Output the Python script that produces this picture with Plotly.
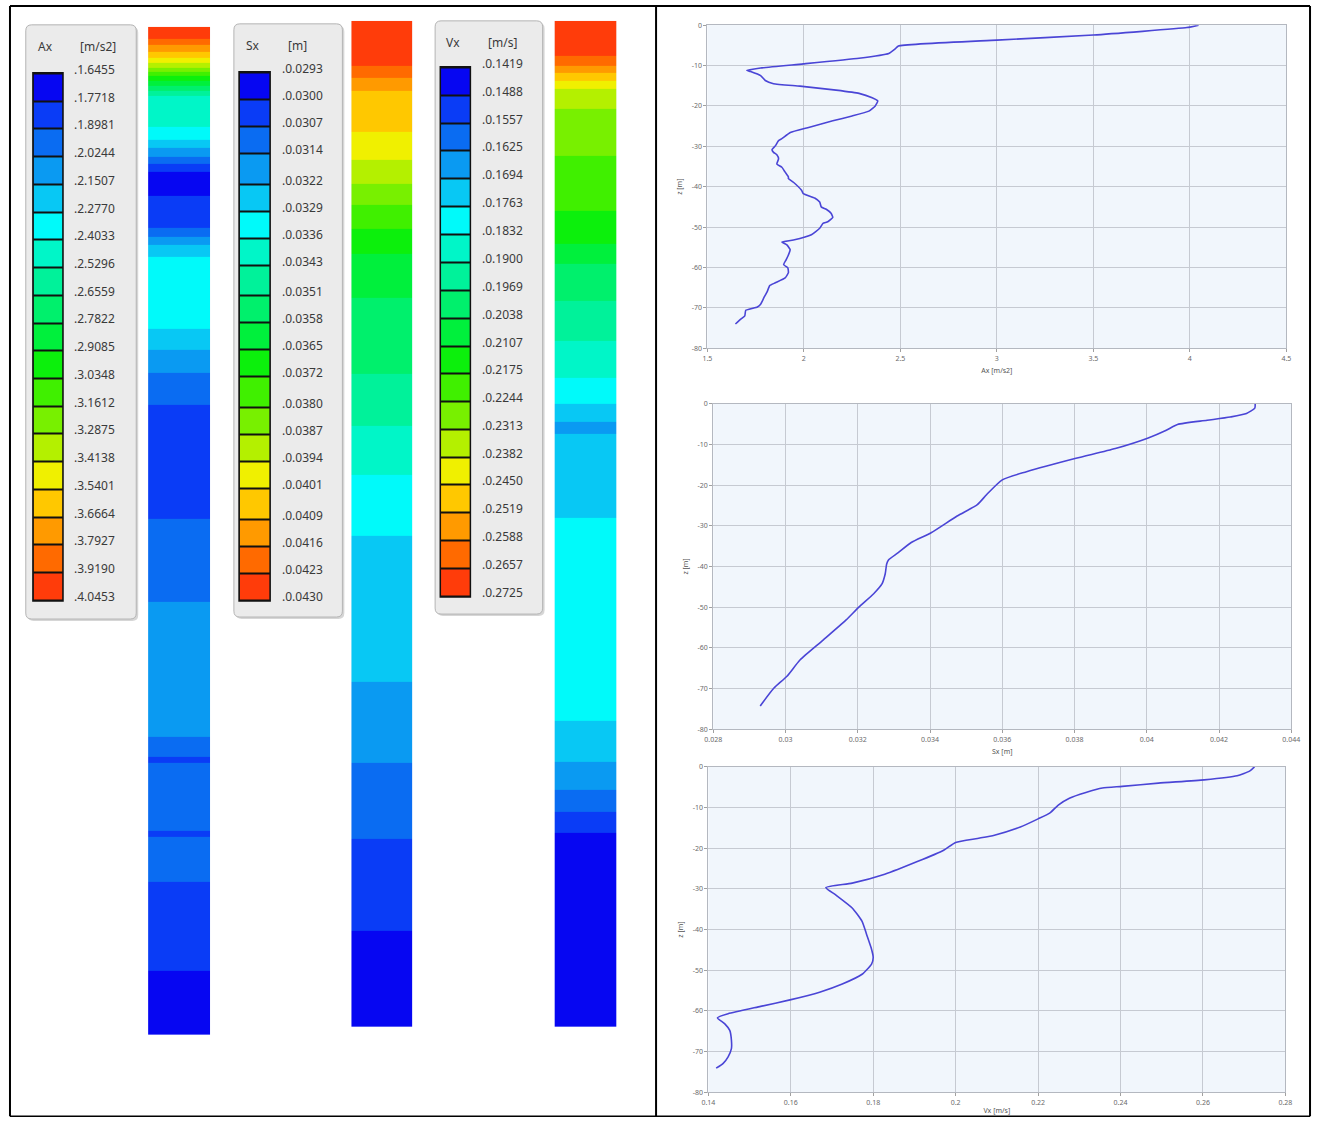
import plotly.graph_objects as go

# the page keeps its default 8 px body margin; the figure fills the rest of the window
PAGE_W, PAGE_H = 1337, 1137
OFF = 8
W, H = PAGE_W - 2 * OFF, PAGE_H - 2 * OFF

# ---------------- data: depth profiles ----------------
ax_depth = [0, -0.6, -2.45, -3.7, -5.15, -6.0, -7.0, -8.2, -9.6, -10.6, -11.2, -11.5, -12.5,
            -13.7, -14.5, -15.1, -16.1, -16.9, -18.0, -18.8, -20.0, -21.3, -22.5, -23.7, -25.4,
            -26.6, -28.1, -28.6, -29.9, -30.8, -31.5, -32.1, -33.1, -34.4, -35.2, -36.4, -37.6,
            -38.0, -38.9, -40.9, -41.7, -42.8, -43.8, -45.0, -45.6, -46.6, -47.6, -48.7, -49.1,
            -50.3, -51.9, -53.2, -53.7, -54.4, -55.6, -56.9, -58.1, -59.3, -60.1, -61.3, -62.6,
            -63.8, -64.5, -66.0, -67.5, -69.1, -69.8, -70.6, -72.0, -72.8, -74.0]
ax_vals = [4.0453, 3.985, 3.50, 3.00, 2.49, 2.47, 2.44, 2.286, 1.997, 1.776, 1.704, 1.724, 1.776,
           1.80, 1.843, 1.98, 2.167, 2.286, 2.354, 2.383, 2.37, 2.337, 2.25, 2.15, 2.02,
           1.93, 1.886, 1.869, 1.852, 1.835, 1.843, 1.86, 1.869, 1.86, 1.886, 1.903, 1.92,
           1.92, 1.946, 1.988, 1.997, 2.056, 2.082, 2.09, 2.116, 2.141, 2.15, 2.124, 2.099,
           2.082, 2.039, 1.946, 1.886, 1.912, 1.929, 1.92, 1.908, 1.895, 1.917, 1.92, 1.903,
           1.852, 1.823, 1.81, 1.793, 1.776, 1.759, 1.699, 1.694, 1.673, 1.6455]

sx_depth = [0, -1.06, -2.4, -3.25, -4.06, -5.1, -6.5, -8.4, -11.0, -13.4, -16.7, -18.7, -22.3,
            -24.8, -27.6, -31.7, -34.1, -36.6, -38.4, -39.4, -41.8, -44.3, -46.7, -50.0, -53.2,
            -58.1, -63.0, -67.0, -69.9, -74.3]
sx_vals = [0.0430, 0.04299, 0.04276, 0.04231, 0.04167, 0.04085, 0.04054, 0.04004, 0.03913,
           0.03804, 0.03667, 0.0360, 0.03557, 0.03531, 0.03475, 0.03403, 0.03348, 0.03312,
           0.03285, 0.0328, 0.03276, 0.03267, 0.03244, 0.03203, 0.03167, 0.03104, 0.0304,
           0.03004, 0.02968, 0.0293]

vx_depth = [0, -0.98, -2.2, -3.2, -4.0, -4.8, -5.2, -6.3, -7.7, -9.4, -11.3, -12.8, -14.8,
            -16.8, -17.6, -18.6, -20.5, -23.3, -26.4, -28.6, -29.7, -31.5, -34.7, -38.0, -41.2,
            -44.5, -46.9, -48.5, -51.0, -53.4, -55.4, -57.3, -58.9, -60.7, -61.7, -63.2, -64.8,
            -67.2, -69.3, -71.3, -72.9, -74.1]
vx_vals = [0.2725, 0.2714, 0.2683, 0.2603, 0.2492, 0.2404, 0.2356, 0.2316, 0.2276, 0.2249,
           0.2229, 0.22, 0.2157, 0.2094, 0.2053, 0.2, 0.1971, 0.1907, 0.1828, 0.1749, 0.1685,
           0.1709, 0.1749, 0.1773, 0.1784, 0.1795, 0.18, 0.1796, 0.1773, 0.1725, 0.167, 0.1598,
           0.1527, 0.1448, 0.1422, 0.144, 0.1452, 0.1456, 0.1456, 0.1448, 0.1436, 0.1419]

# ---------------- data: legend levels ----------------
ax_levels = [1.6455, 1.7718, 1.8981, 2.0244, 2.1507, 2.2770, 2.4033, 2.5296, 2.6559, 2.7822,
             2.9085, 3.0348, 3.1612, 3.2875, 3.4138, 3.5401, 3.6664, 3.7927, 3.9190, 4.0453]
sx_levels = [0.0293, 0.0300, 0.0307, 0.0314, 0.0322, 0.0329, 0.0336, 0.0343, 0.0351, 0.0358,
             0.0365, 0.0372, 0.0380, 0.0387, 0.0394, 0.0401, 0.0409, 0.0416, 0.0423, 0.0430]
vx_levels = [0.1419, 0.1488, 0.1557, 0.1625, 0.1694, 0.1763, 0.1832, 0.1900, 0.1969, 0.2038,
             0.2107, 0.2175, 0.2244, 0.2313, 0.2382, 0.2450, 0.2519, 0.2588, 0.2657, 0.2725]

band_colors = ["#0606f2", "#0a3cf6", "#0a6cf2", "#0a9af2", "#08c8f4", "#00fafa", "#00f6c8",
               "#00f29a", "#00f06c", "#00f03c", "#0cf00c", "#40f000", "#78f000", "#b4f000",
               "#f0f000", "#ffc800", "#ff9a00", "#ff6a00", "#ff3c0a"]

z_ticks = [0, -10, -20, -30, -40, -50, -60, -70, -80]
ax_ticks = [1.5, 2, 2.5, 3, 3.5, 4, 4.5]
ax_ticktext = ["1.5", "2", "2.5", "3", "3.5", "4", "4.5"]
sx_ticks = [0.028, 0.030, 0.032, 0.034, 0.036, 0.038, 0.040, 0.042, 0.044]
sx_ticktext = ["0.028", "0.03", "0.032", "0.034", "0.036", "0.038", "0.04", "0.042", "0.044"]
vx_ticks = [0.14, 0.16, 0.18, 0.20, 0.22, 0.24, 0.26, 0.28]
vx_ticktext = ["0.14", "0.16", "0.18", "0.2", "0.22", "0.24", "0.26", "0.28"]

# stepped colour scale: one flat band per legend interval
n_bands = len(band_colors)
colorscale = []
for i, c in enumerate(band_colors):
    colorscale.append([i / n_bands, c])
    colorscale.append([(i + 1) / n_bands, c])

FONT = "Noto Sans, Open Sans, sans-serif"


# positions below are given in window pixels and converted to paper fractions
def fx(p):
    return (p - OFF) / W


def fy(p):
    return 1 - (p - OFF) / H


def dom_x(a, b):
    return [fx(a), fx(b)]


def dom_y(top, bottom):
    return [fy(bottom), fy(top)]


fig = go.Figure()
axes = {}


def ref(i):
    return ("x" if i == 1 else f"x{i}"), ("y" if i == 1 else f"y{i}")


def add_axes(i, xdom, ydom, xopts, yopts):
    xr, yr = ref(i)
    axes["xaxis" if i == 1 else f"xaxis{i}"] = dict(domain=xdom, anchor=yr, **xopts)
    axes["yaxis" if i == 1 else f"yaxis{i}"] = dict(domain=ydom, anchor=xr, **yopts)


hidden = dict(visible=False, fixedrange=True, showgrid=False, zeroline=False)

shapes = []
annotations = []

# ---------------- legend panels ----------------
def rounded_path(x0, y0, x1, y1, r):
    pts = [
        f"M{fx(x0 + r)},{fy(y0)}", f"L{fx(x1 - r)},{fy(y0)}", f"Q{fx(x1)},{fy(y0)} {fx(x1)},{fy(y0 + r)}",
        f"L{fx(x1)},{fy(y1 - r)}", f"Q{fx(x1)},{fy(y1)} {fx(x1 - r)},{fy(y1)}",
        f"L{fx(x0 + r)},{fy(y1)}", f"Q{fx(x0)},{fy(y1)} {fx(x0)},{fy(y1 - r)}",
        f"L{fx(x0)},{fy(y0 + r)}", f"Q{fx(x0)},{fy(y0)} {fx(x0 + r)},{fy(y0)}", "Z",
    ]
    return " ".join(pts)


legends = [
    # name, unit, levels, panel box, swatch box, label x, name x, unit x, title y
    ("Ax", "[m/s2]", ax_levels, (25, 28, 137, 627), (33, 77, 62, 608), 72, 35, 78, 50),
    ("Sx", "[m]", sx_levels, (236, 27, 346, 625), (242, 76, 272, 608), 283, 246, 289, 49),
    ("Vx", "[m/s]", vx_levels, (440, 24, 549, 622), (446, 71, 475, 604), 486, 449, 492, 46),
]

for k, (name, unit, levels, panel, sw, lab_x, name_x, unit_x, title_y) in enumerate(legends):
    i = k + 1
    xr, yr = ref(i)
    # panel shadow and body
    shapes.append(dict(type="path", xref="paper", yref="paper", layer="below",
                       path=rounded_path(panel[0] + 2, panel[1] + 2, panel[2] + 2, panel[3] + 2, 6),
                       fillcolor="#d6d6d6", line=dict(width=0)))
    shapes.append(dict(type="path", xref="paper", yref="paper", layer="below",
                       path=rounded_path(*panel, 6),
                       fillcolor="#ebebeb", line=dict(color="#b4b4b4", width=1)))
    # black frame under the swatches; gaps between cells reveal it
    shapes.append(dict(type="rect", xref=f"{xr} domain", yref=f"{yr} domain", layer="below",
                       x0=0, x1=1, y0=0, y1=1, fillcolor="#111111",
                       line=dict(color="#111111", width=3)))
    add_axes(i, dom_x(sw[0], sw[2]), dom_y(sw[1], sw[3]),
             dict(hidden, range=[-0.5, 0.5]),
             dict(hidden, range=[levels[-1], levels[0]]))
    fig.add_trace(go.Heatmap(
        x=[0], y=levels, z=[[(a + b) / 2] for a, b in zip(levels[:-1], levels[1:])],
        colorscale=colorscale, zmin=levels[0], zmax=levels[-1], showscale=False,
        ygap=2, hoverinfo="skip", xaxis=xr, yaxis=yr))
    for v in levels:
        annotations.append(dict(xref="paper", yref=yr, x=fx(lab_x), y=v, yshift=4,
                                text="." + f"{v:.4f}", showarrow=False, xanchor="left",
                                yanchor="middle", font=dict(family=FONT, size=12, color="#3a3a3a")))
    annotations.append(dict(xref="paper", yref="paper", x=fx(name_x), y=fy(title_y), text=name,
                            showarrow=False, xanchor="left", yanchor="middle",
                            font=dict(family=FONT, size=12, color="#3a3a3a")))
    annotations.append(dict(xref="paper", yref="paper", x=fx(unit_x), y=fy(title_y), text=unit,
                            showarrow=False, xanchor="left", yanchor="middle",
                            font=dict(family=FONT, size=12, color="#3a3a3a")))

# ---------------- colour columns ----------------
columns = [
    (ax_depth, ax_vals, ax_levels, (149, 30, 212, 1046)),
    (sx_depth, sx_vals, sx_levels, (355, 24, 417, 1038)),
    (vx_depth, vx_vals, vx_levels, (561, 24, 624, 1038)),
]
for k, (depth, vals, levels, box) in enumerate(columns):
    i = k + 4
    xr, yr = ref(i)
    add_axes(i, dom_x(box[0], box[2]), dom_y(box[1], box[3]),
             dict(hidden, range=[-0.5, 1.5]),
             dict(hidden, range=[depth[-1], 0]))
    fig.add_trace(go.Heatmap(
        x=[0, 1], y=depth[::-1], z=[[v, v] for v in vals[::-1]],
        colorscale=colorscale, zmin=levels[0], zmax=levels[-1], zsmooth="best",
        showscale=False, hoverinfo="skip", xaxis=xr, yaxis=yr))

# ---------------- depth profile charts ----------------
charts = [
    (ax_depth, ax_vals, ax_ticks, ax_ticktext, "Ax [m/s2]", (716, 28.3, 1303, 354), 6, 0.4),
    (sx_depth, sx_vals, sx_ticks, sx_ticktext, "Sx [m]", (722, 410, 1308, 738), 6, 0.6),
    (vx_depth, vx_vals, vx_ticks, vx_ticktext, "Vx [m/s]", (717, 776, 1302, 1104), 2, 0.5),
]
tick_font = dict(family=FONT, size=7, color="#6a6a6a")
for k, (depth, vals, ticks, ticktext, xtitle, box, standoff, smooth) in enumerate(charts):
    i = k + 7
    xr, yr = ref(i)
    common = dict(showgrid=True, gridcolor="#c6cad2", gridwidth=1, zeroline=False,
                  showline=True, linecolor="#b4b8c0", linewidth=1, mirror=True,
                  ticks="outside", ticklen=3, tickcolor="#a0a0a0", tickfont=tick_font,
                  fixedrange=True)
    add_axes(i, dom_x(box[0], box[2]), dom_y(box[1], box[3]),
             dict(common, range=[ticks[0], ticks[-1]], tickmode="array", tickvals=ticks,
                  ticktext=ticktext,
                  title=dict(text=xtitle, font=dict(family=FONT, size=7, color="#555555"),
                             standoff=standoff)),
             dict(common, range=[-80, 0], tickmode="array", tickvals=z_ticks,
                  ticktext=[str(t) for t in z_ticks],
                  title=dict(text="z [m]", font=dict(family=FONT, size=7, color="#555555"),
                             standoff=8)))
    fig.add_trace(go.Scatter(x=vals, y=depth, mode="lines",
                             line=dict(color="#4a45d6", width=1.6, shape="spline",
                                       smoothing=smooth),
                             hoverinfo="skip", xaxis=xr, yaxis=yr))

# ---------------- table frame ----------------
left, top, right, bottom, mid = 9, 9, 1327, 1128.3, 664
for x0, y0, x1, y1, w in [(left, top, right, top, 2), (left, bottom, right, bottom, 1.5),
                          (left, top, left, bottom, 2), (right, top, right, bottom, 2),
                          (mid, top, mid, bottom, 2)]:
    shapes.append(dict(type="line", xref="paper", yref="paper", x0=fx(x0), y0=fy(y0),
                       x1=fx(x1), y1=fy(y1), line=dict(color="#000000", width=w),
                       layer="above"))

fig.update_layout(
    width=W, height=H, margin=dict(l=0, r=0, t=0, b=0),
    paper_bgcolor="#ffffff", plot_bgcolor="#f1f6fc",
    showlegend=False, shapes=shapes, annotations=annotations,
    font=dict(family=FONT), **axes)

fig.write_html("out.html")
